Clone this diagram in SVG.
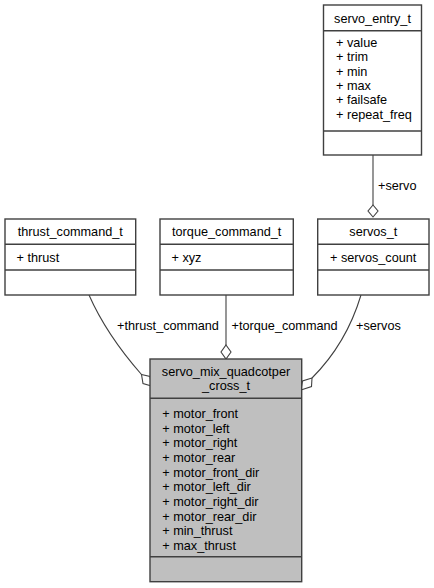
<svg xmlns="http://www.w3.org/2000/svg" width="434" height="588" viewBox="0 0 434 588">
<style>
text{font-family:"Liberation Sans",Arial,sans-serif;font-size:12.7px;fill:#000}
.c{text-anchor:middle}
.box{fill:#fff;stroke:#404040;stroke-width:1.4}
.main{fill:#bfbfbf;stroke:#404040;stroke-width:1.4}
.sep{stroke:#404040;stroke-width:1.4}
.edge{fill:none;stroke:#404040;stroke-width:1.1}
.dia{fill:#fff;stroke:#404040;stroke-width:1.1}
</style>
<rect width="434" height="588" fill="#fff"/>
<g id="connectors">
<path class="edge" d="M373,155 V205"/>
<polygon class="dia" points="373,205 378,211 373,217 368,211"/>
<text x="378" y="190">+servo</text>
<path class="edge" d="M89,295 C100,320 120,350 141.5,374.5"/>
<polygon class="dia" points="141.5,374.5 150,376.5 151.5,386 143,383.5"/>
<text x="117" y="330">+thrust_command</text>
<path class="edge" d="M226,295 V345"/>
<polygon class="dia" points="226,345 231,352 226,359 221,352"/>
<text x="231.5" y="330">+torque_command</text>
<path class="edge" d="M361,295 C352,325 335,355 312,378"/>
<polygon class="dia" points="312,378 302.5,381 301,390 311.5,386.5"/>
<text x="356" y="330">+servos</text>
</g>
<g id="servo_entry_t">
<rect class="box" x="323.5" y="5" width="98" height="150"/>
<line class="sep" x1="323.5" y1="30.7" x2="421.5" y2="30.7"/>
<line class="sep" x1="323.5" y1="131" x2="421.5" y2="131"/>
<text class="c" x="372.5" y="22.5">servo_entry_t</text>
<text x="336" y="47">+ value</text>
<text x="336" y="61.3">+ trim</text>
<text x="336" y="75.6">+ min</text>
<text x="336" y="89.9">+ max</text>
<text x="336" y="104.2">+ failsafe</text>
<text x="336" y="118.5">+ repeat_freq</text>
</g>
<g id="thrust_command_t">
<rect class="box" x="5" y="219" width="130.7" height="76"/>
<line class="sep" x1="5" y1="244.3" x2="135.7" y2="244.3"/>
<line class="sep" x1="5" y1="270" x2="135.7" y2="270"/>
<text class="c" x="70.3" y="236">thrust_command_t</text>
<text x="16.5" y="262">+ thrust</text>
</g>
<g id="torque_command_t">
<rect class="box" x="160" y="219" width="133.3" height="76"/>
<line class="sep" x1="160" y1="244.3" x2="293.3" y2="244.3"/>
<line class="sep" x1="160" y1="270" x2="293.3" y2="270"/>
<text class="c" x="226.7" y="236">torque_command_t</text>
<text x="171.5" y="262">+ xyz</text>
</g>
<g id="servos_t">
<rect class="box" x="317.7" y="219" width="111.3" height="76"/>
<line class="sep" x1="317.7" y1="244.3" x2="429" y2="244.3"/>
<line class="sep" x1="317.7" y1="270" x2="429" y2="270"/>
<text class="c" x="373.3" y="236">servos_t</text>
<text x="330" y="262">+ servos_count</text>
</g>
<g id="servo_mix_quadcotper_cross_t">
<rect class="main" x="150" y="359" width="151.7" height="222.7"/>
<line class="sep" x1="150" y1="398.3" x2="301.7" y2="398.3"/>
<line class="sep" x1="150" y1="556.7" x2="301.7" y2="556.7"/>
<text class="c" x="226" y="376">servo_mix_quadcotper</text>
<text class="c" x="226" y="390">_cross_t</text>
<text x="162.3" y="418">+ motor_front</text>
<text x="162.3" y="432.7">+ motor_left</text>
<text x="162.3" y="447.3">+ motor_right</text>
<text x="162.3" y="462">+ motor_rear</text>
<text x="162.3" y="476.7">+ motor_front_dir</text>
<text x="162.3" y="491.3">+ motor_left_dir</text>
<text x="162.3" y="506">+ motor_right_dir</text>
<text x="162.3" y="520.7">+ motor_rear_dir</text>
<text x="162.3" y="535.3">+ min_thrust</text>
<text x="162.3" y="550">+ max_thrust</text>
</g>
</svg>
